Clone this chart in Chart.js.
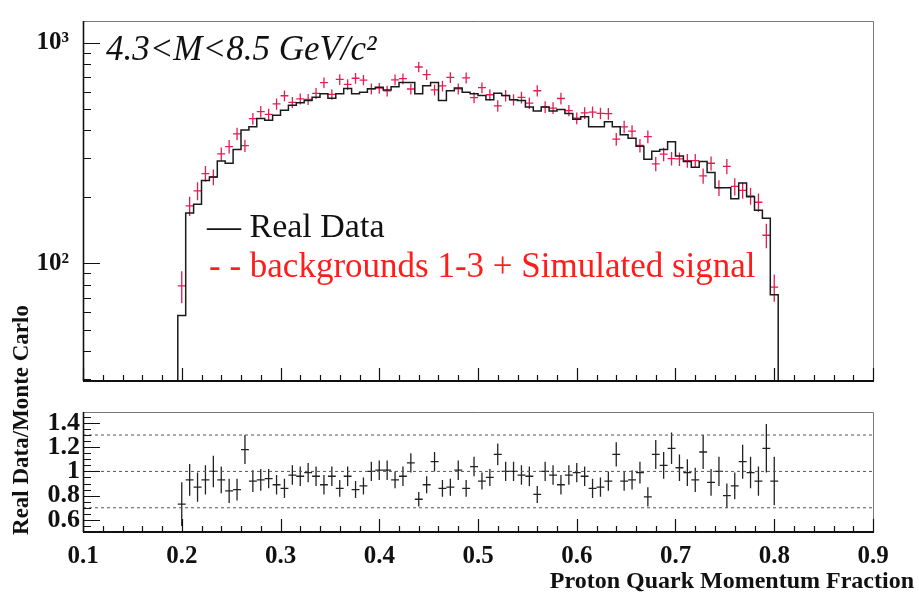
<!DOCTYPE html>
<html>
<head>
<meta charset="utf-8">
<title>Proton quark momentum fraction</title>
<script src="https://cdn.jsdelivr.net/npm/chart.js@4.4.1/dist/chart.umd.min.js"></script>
<style>
  body { margin: 0; background: #fff; }
  #wrap { position: relative; width: 919px; height: 593px; }
  #wrap canvas { position: absolute; left: 0; top: 0; }
</style>
</head>
<body>
<div id="wrap">
  <canvas id="chart-top" width="919" height="593"></canvas>
  <canvas id="chart-ratio" width="919" height="593"></canvas>
</div>
<script>
// histogram binning: 76 bins of width 0.008, first bin centred on 0.2
var bin_low = 0.196;
var bin_width = 0.008;

// real data counts per bin (black histogram)
var real_data = [58, 169, 185, 237, 246, 291, 284, 328, 402, 416,
    453, 445, 469, 494, 520, 534, 547, 565, 586, 560,
    586, 620, 586, 595, 617, 627, 610, 631, 659, 659,
    586, 637, 659, 547, 605, 623, 595, 586, 575, 551,
    589, 575, 551, 547, 511, 490, 511, 490, 497, 477,
    449, 461, 416, 416, 438, 416, 382, 369, 339, 296,
    322, 328, 355, 306, 289, 272, 289, 258, 220, 220,
    196, 231, 200, 174, 160, 72];

// backgrounds 1-3 + simulated signal (red crosses) and their errors
var monte_carlo = [79, 182, 213, 255, 246, 313, 338, 386, 341, 452,
    487, 473, 527, 574, 536, 556, 553, 589, 658, 583,
    681, 646, 689, 676, 617, 621, 604, 678, 686, 616,
    775, 716, 610, 636, 695, 617, 692, 563, 625, 580,
    517, 575, 551, 564, 532, 605, 511, 505, 558, 492,
    454, 480, 484, 478, 476, 365, 415, 397, 342, 375,
    282, 312, 298, 297, 292, 292, 249, 284, 220, 275,
    223, 214, 202, 189, 134, 78];
var monte_carlo_err = [13, 18, 20, 21, 20, 22, 24, 25, 22, 28,
    29, 28, 31, 32, 31, 32, 32, 34, 36, 32,
    38, 36, 38, 36, 35, 35, 34, 38, 38, 35,
    42, 39, 35, 36, 39, 35, 39, 32, 35, 34,
    31, 34, 32, 34, 32, 35, 31, 31, 34, 29,
    28, 29, 29, 29, 29, 24, 27, 25, 24, 25,
    21, 22, 21, 21, 21, 21, 20, 21, 18, 22,
    20, 18, 18, 18, 17, 11];

// real data / monte carlo ratio per bin
var ratio = [0.73, 0.93, 0.87, 0.93, 1.00, 0.93, 0.84, 0.85, 1.18, 0.92,
    0.93, 0.94, 0.89, 0.86, 0.97, 0.96, 0.99, 0.96, 0.89, 0.96,
    0.86, 0.96, 0.85, 0.88, 1.00, 1.01, 1.01, 0.93, 0.96, 1.07,
    0.77, 0.89, 1.08, 0.86, 0.87, 1.01, 0.86, 1.04, 0.92, 0.95,
    1.14, 1.00, 1.00, 0.97, 0.96, 0.81, 1.00, 0.97, 0.89, 0.97,
    0.99, 0.96, 0.86, 0.87, 0.92, 1.14, 0.92, 0.93, 0.99, 0.79,
    1.14, 1.05, 1.19, 1.03, 0.99, 0.93, 1.16, 0.91, 1.00, 0.80,
    0.88, 1.08, 0.99, 0.92, 1.19, 0.92];
var ratio_err = [0.18, 0.13, 0.12, 0.12, 0.13, 0.11, 0.10, 0.09, 0.12, 0.09,
    0.09, 0.08, 0.08, 0.08, 0.08, 0.08, 0.08, 0.08, 0.08, 0.08,
    0.07, 0.08, 0.07, 0.07, 0.08, 0.08, 0.08, 0.07, 0.08, 0.08,
    0.06, 0.07, 0.08, 0.07, 0.07, 0.08, 0.07, 0.08, 0.07, 0.07,
    0.09, 0.08, 0.08, 0.08, 0.08, 0.07, 0.08, 0.08, 0.08, 0.08,
    0.08, 0.08, 0.08, 0.08, 0.08, 0.10, 0.08, 0.08, 0.09, 0.08,
    0.12, 0.11, 0.13, 0.11, 0.11, 0.10, 0.14, 0.11, 0.12, 0.10,
    0.11, 0.14, 0.13, 0.12, 0.20, 0.20];

// reference lines in the ratio panel
var ratio_lines = [0.7, 1.0, 1.3];

// axis ticks
var x_ticks = [0.1, 0.2, 0.3, 0.4, 0.5, 0.6, 0.7, 0.8, 0.9];
var log_ticks = [100, 1000];
var log_labels = ['10\u00b2', '10\u00b3'];
var ratio_ticks = [0.6, 0.8, 1.0, 1.2, 1.4];

var x_min = 0.1, x_max = 0.9;
var y_min = 29.3, y_max = 1252;
var r_min = 0.5, r_max = 1.49;

var SERIF = "'Liberation Serif', 'DejaVu Serif', serif";
var RED = 'rgb(228, 28, 82)';

var centers = [];
for (var i = 0; i < real_data.length; i++) {
    centers.push(bin_low + bin_width * (i + 0.5));
}

// step outline of the histogram, dropping to the axis at both ends
function histogramPoints(values) {
    var pts = [{ x: bin_low, y: y_min }];
    for (var i = 0; i < values.length; i++) {
        pts.push({ x: bin_low + bin_width * i, y: values[i] });
    }
    var end = bin_low + bin_width * values.length;
    pts.push({ x: end, y: values[values.length - 1] });
    pts.push({ x: end, y: y_min });
    return pts;
}

// error-bar crosses as separate line pieces broken by null points
function crossPoints(xs, ys, errs) {
    var pts = [];
    var h = bin_width / 2;
    for (var i = 0; i < xs.length; i++) {
        pts.push({ x: xs[i] - h, y: ys[i] }, { x: xs[i] + h, y: ys[i] }, { x: xs[i] + h, y: null });
        pts.push({ x: xs[i], y: ys[i] - errs[i] }, { x: xs[i], y: ys[i] + errs[i] }, { x: xs[i], y: null });
    }
    return pts;
}

// ROOT style frame: ticks drawn inwards from the left and bottom axes
function frameTicks(cfg) {
    return {
        id: 'frameTicks',
        afterDatasetsDraw: function(chart) {
            var ctx = chart.ctx, a = chart.chartArea;
            var xs = chart.scales.x, ys = chart.scales.y;
            ctx.save();
            ctx.strokeStyle = '#777';
            ctx.lineWidth = 1;
            ctx.beginPath();
            ctx.moveTo(a.left, a.top + 0.5);
            ctx.lineTo(a.right + 0.5, a.top + 0.5);
            ctx.lineTo(a.right + 0.5, a.bottom);
            ctx.stroke();

            ctx.strokeStyle = '#111';
            ctx.lineWidth = 1.2;
            ctx.beginPath();
            // x ticks
            for (var k = 0; k <= 40; k++) {
                var xv = x_min + k * 0.02;
                var px = Math.round(xs.getPixelForValue(xv)) + 0.5;
                var len = (k % 5 === 0) ? 13 : 6;
                ctx.moveTo(px, a.bottom);
                ctx.lineTo(px, a.bottom - len);
            }
            // y ticks
            cfg.yMinor.forEach(function(v) {
                var py = Math.round(ys.getPixelForValue(v)) + 0.5;
                ctx.moveTo(a.left, py);
                ctx.lineTo(a.left + 8, py);
            });
            cfg.yMajor.forEach(function(v) {
                var py = Math.round(ys.getPixelForValue(v)) + 0.5;
                ctx.moveTo(a.left, py);
                ctx.lineTo(a.left + 17, py);
            });
            ctx.stroke();

            ctx.lineWidth = 1.6;
            ctx.beginPath();
            ctx.moveTo(a.left + 0.5, a.top);
            ctx.lineTo(a.left + 0.5, a.bottom);
            ctx.stroke();
            ctx.lineWidth = 2.2;
            ctx.beginPath();
            ctx.moveTo(a.left, a.bottom);
            ctx.lineTo(a.right + 1, a.bottom);
            ctx.stroke();
            ctx.restore();
        }
    };
}

var log_minor = [];
[10, 100].forEach(function(d) {
    for (var m = 2; m <= 9; m++) {
        if (d * m >= y_min && d * m <= y_max) log_minor.push(d * m);
    }
});
var ratio_minor = [];
for (var r = 0.55; r < r_max; r += 0.05) ratio_minor.push(r);

// header and legend text of the upper panel
var topText = {
    id: 'topText',
    afterDraw: function(chart) {
        var ctx = chart.ctx;
        ctx.save();
        ctx.textAlign = 'left';
        ctx.textBaseline = 'alphabetic';
        ctx.fillStyle = '#111';
        ctx.font = 'italic 35px ' + SERIF;
        ctx.fillText('4.3<M<8.5 GeV/c\u00b2', 106, 60);
        ctx.font = '34px ' + SERIF;
        ctx.fillText('\u2014 Real Data', 207, 237);
        ctx.fillStyle = '#ff1c1c';
        ctx.font = '35px ' + SERIF;
        ctx.fillText('- - backgrounds 1-3 + Simulated signal', 209, 277);
        ctx.restore();
    }
};

var ratioText = {
    id: 'ratioText',
    afterDraw: function(chart) {
        var ctx = chart.ctx;
        ctx.save();
        ctx.fillStyle = '#111';
        ctx.font = 'bold 23px ' + SERIF;
        ctx.textAlign = 'center';
        ctx.textBaseline = 'alphabetic';
        ctx.translate(28, 420);
        ctx.rotate(-Math.PI / 2);
        ctx.fillText('Real Data/Monte Carlo', 0, 0);
        ctx.restore();

        ctx.save();
        ctx.fillStyle = '#111';
        ctx.font = 'bold 24px ' + SERIF;
        ctx.textAlign = 'right';
        ctx.fillText('Proton Quark Momentum Fraction', 914, 588);
        ctx.restore();
    }
};

var ctx1 = document.getElementById('chart-top').getContext('2d');
var topChart = new Chart(ctx1, {
    type: 'scatter',
    data: {
        datasets: [{
            label: 'Real Data',
            data: histogramPoints(real_data),
            showLine: true,
            stepped: true,
            borderColor: '#1a1a1a',
            borderWidth: 1.5,
            pointRadius: 0,
        }, {
            label: 'backgrounds 1-3 + Simulated signal',
            data: crossPoints(centers, monte_carlo, monte_carlo_err),
            showLine: true,
            spanGaps: false,
            borderColor: RED,
            borderWidth: 1.3,
            pointRadius: 0,
        }],
    },
    options: {
        responsive: false,
        animation: false,
        layout: { padding: { left: 0, top: 14, right: 46, bottom: 212 } },
        plugins: { legend: { display: false }, tooltip: { enabled: false } },
        scales: {
            x: {
                type: 'linear',
                min: x_min,
                max: x_max,
                grid: { display: false },
                border: { display: false },
                ticks: { display: false },
                afterFit: function(scale) { scale.height = 0; },
            },
            y: {
                type: 'logarithmic',
                min: y_min,
                max: y_max,
                grid: { display: false },
                border: { display: false },
                afterBuildTicks: function(scale) {
                    scale.ticks = log_ticks.map(function(v) { return { value: v }; });
                },
                ticks: {
                    padding: 6,
                    autoSkip: false,
                    color: '#111',
                    font: { family: SERIF, size: 25, weight: 'bold' },
                    callback: function(v) { return log_labels[log_ticks.indexOf(v)]; },
                },
                afterFit: function(scale) { scale.width = 83; },
            },
        },
    },
    plugins: [frameTicks({ yMajor: log_ticks, yMinor: log_minor }), topText],
});

var refSets = ratio_lines.map(function(v) {
    return {
        data: [{ x: x_min, y: v }, { x: x_max, y: v }],
        showLine: true,
        borderColor: '#555',
        borderWidth: 1,
        borderDash: [3, 3],
        pointRadius: 0,
    };
});

var ctx2 = document.getElementById('chart-ratio').getContext('2d');
var ratioChart = new Chart(ctx2, {
    type: 'scatter',
    data: {
        datasets: refSets.concat([{
            label: 'Real Data/Monte Carlo',
            data: crossPoints(centers, ratio, ratio_err),
            showLine: true,
            spanGaps: false,
            borderColor: '#222',
            borderWidth: 1.3,
            pointRadius: 0,
        }]),
    },
    options: {
        responsive: false,
        animation: false,
        layout: { padding: { left: 0, top: 412, right: 46, bottom: 0 } },
        plugins: { legend: { display: false }, tooltip: { enabled: false } },
        scales: {
            x: {
                type: 'linear',
                min: x_min,
                max: x_max,
                grid: { display: false },
                border: { display: false },
                afterBuildTicks: function(scale) {
                    scale.ticks = x_ticks.map(function(v) { return { value: v }; });
                },
                ticks: {
                    padding: 2,
                    maxRotation: 0,
                    autoSkip: false,
                    color: '#111',
                    font: { family: SERIF, size: 25, weight: 'bold' },
                    callback: function(v) { return v.toFixed(1); },
                },
                afterFit: function(scale) { scale.height = 61; },
            },
            y: {
                type: 'linear',
                min: r_min,
                max: r_max,
                grid: { display: false },
                border: { display: false },
                afterBuildTicks: function(scale) {
                    scale.ticks = ratio_ticks.map(function(v) { return { value: v }; });
                },
                ticks: {
                    padding: -5,
                    autoSkip: false,
                    color: '#111',
                    font: { family: SERIF, size: 26, weight: 'bold' },
                    callback: function(v) { return v === 1 ? '1' : v.toFixed(1); },
                },
                afterFit: function(scale) { scale.width = 83; },
            },
        },
    },
    plugins: [frameTicks({ yMajor: ratio_ticks, yMinor: ratio_minor }), ratioText],
});
</script>
</body>
</html>
